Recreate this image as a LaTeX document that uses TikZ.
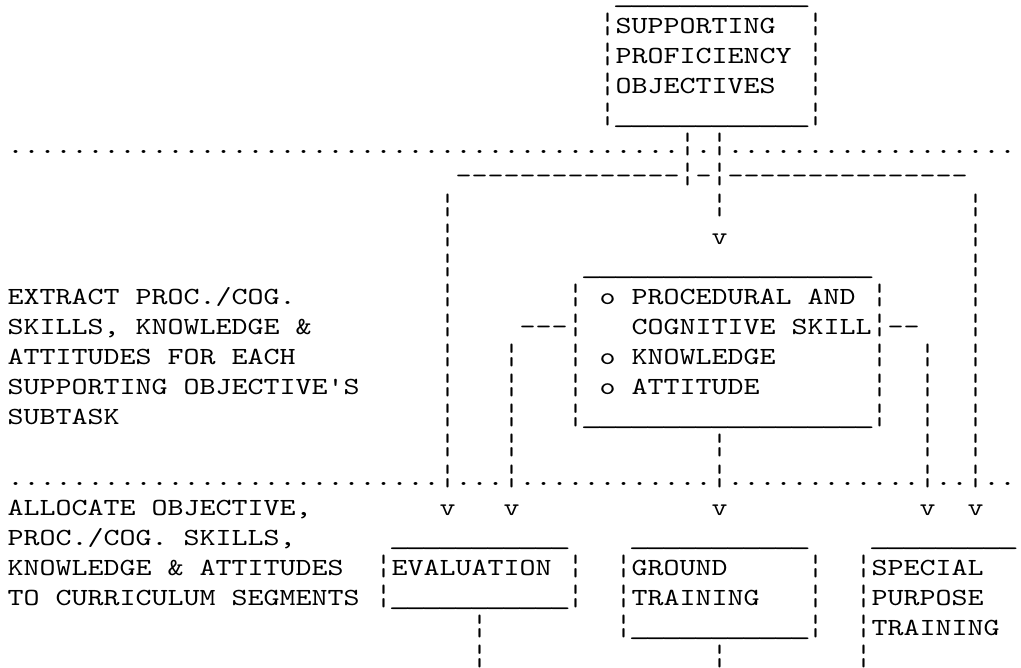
\documentclass[tikz,border=0pt]{standalone}
\usepackage{fontspec}
\setmonofont{lmmono10-regular.otf}[FakeStretch=1.2389]
\usepackage{tikz}
\usetikzlibrary{positioning}

% repeat a character, skip columns of the 8pt grid
\newcommand\chrep[2]{\foreach\i in {1,...,#1}{#2}}
\newcommand\skipcols[1]{\hspace*{#1\dimexpr 8pt\relax}}
% box rule characters, one column wide
\newcommand\us{\makebox[8pt][c]{\scalebox{1.4}[1]{\_}}}
\newcommand\vb{\makebox[8pt][c]{\scalebox{1}[1.2]{¦}}}

\tikzset{
  ascii/.style={anchor=base west, inner sep=0pt, outer sep=0pt,
    font=\ttfamily\fontsize{12.3pt}{15pt}\selectfont\frenchspacing}
}

\begin{document}
\begin{tikzpicture}[x=8pt, y=-15.05pt]
    \useasboundingbox (0pt,0pt) rectangle (510.5pt,-334pt);
    \begin{scope}[shift={(3.85pt,-1.7pt)}]
        % supporting proficiency objectives
        \node[ascii] (row0) at (0,0) {\skipcols{38}\chrep{12}{\us}};
        \node[ascii] (row1) at (0,1) {\skipcols{37}\vb SUPPORTING\skipcols{2}\vb};
        \node[ascii] (row2) at (0,2) {\skipcols{37}\vb PROFICIENCY\skipcols{1}\vb};
        \node[ascii] (row3) at (0,3) {\skipcols{37}\vb OBJECTIVES\skipcols{2}\vb};
        \node[ascii] (row4) at (0,4) {\skipcols{37}\vb\chrep{12}{\us}\vb};
        \node[ascii] (row5) at (0,5) {\chrep{42}{.}\vb.\vb\chrep{18}{.}};
        \node[ascii] (row6) at (0,6) {\skipcols{28}\chrep{14}{-}\vb-\vb\chrep{15}{-}};
        \node[ascii] (row7) at (0,7) {\skipcols{27}\vb\skipcols{16}\vb\skipcols{15}\vb};
        \node[ascii] (row8) at (0,8) {\skipcols{27}\vb\skipcols{16}v\skipcols{15}\vb};
        \node[ascii] (row9) at (0,9) {\skipcols{27}\vb\skipcols{8}\chrep{18}{\us}\skipcols{6}\vb};

        % extract skills, knowledge and attitudes
        \node[ascii] (row10) at (0,10) {EXTRACT PROC./COG.\skipcols{9}\vb\skipcols{7}\vb%
            \skipcols{1}o PROCEDURAL AND\skipcols{1}\vb\skipcols{5}\vb};
        \node[ascii] (row11) at (0,11) {SKILLS, KNOWLEDGE \&\skipcols{8}\vb\skipcols{4}\chrep{3}{-}\vb%
            \skipcols{3}COGNITIVE SKILL\vb\chrep{2}{-}\skipcols{3}\vb};
        \node[ascii] (row12) at (0,12) {ATTITUDES FOR EACH\skipcols{9}\vb\skipcols{3}\vb\skipcols{3}\vb%
            \skipcols{1}o KNOWLEDGE\skipcols{6}\vb\skipcols{2}\vb\skipcols{2}\vb};
        \node[ascii] (row13) at (0,13) {SUPPORTING OBJECTIVE'S\skipcols{5}\vb\skipcols{3}\vb%
            \skipcols{3}\vb\skipcols{1}o ATTITUDE\skipcols{7}\vb\skipcols{2}\vb\skipcols{2}\vb};
        \node[ascii] (row14) at (0,14) {SUBTASK\skipcols{20}\vb\skipcols{3}\vb\skipcols{3}\vb%
            \chrep{18}{\us}\vb\skipcols{2}\vb\skipcols{2}\vb};
        \node[ascii] (row15) at (0,15) {\skipcols{27}\vb\skipcols{3}\vb\skipcols{12}\vb\skipcols{12}\vb%
            \skipcols{2}\vb};
        \node[ascii] (row16) at (0,16) {\chrep{27}{.}\vb\chrep{3}{.}\vb\chrep{12}{.}\vb\chrep{12}{.}\vb%
            \chrep{2}{.}\vb\chrep{2}{.}};

        % allocate to curriculum segments
        \node[ascii] (row17) at (0,17) {ALLOCATE OBJECTIVE,\skipcols{8}v\skipcols{3}v\skipcols{12}v%
            \skipcols{12}v\skipcols{2}v};
        \node[ascii] (row18) at (0,18) {PROC./COG. SKILLS,\skipcols{6}\chrep{11}{\us}\skipcols{4}%
            \chrep{11}{\us}\skipcols{4}\chrep{9}{\us}};
        \node[ascii] (row19) at (0,19) {KNOWLEDGE \& ATTITUDES\skipcols{2}\vb EVALUATION\skipcols{1}\vb%
            \skipcols{2}\vb GROUND\skipcols{5}\vb\skipcols{2}\vb SPECIAL};
        \node[ascii] (row20) at (0,20) {TO CURRICULUM SEGMENTS\skipcols{1}\vb\chrep{11}{\us}\vb%
            \skipcols{2}\vb TRAINING\skipcols{3}\vb\skipcols{2}\vb PURPOSE};
        \node[ascii] (row21) at (0,21) {\skipcols{29}\vb\skipcols{8}\vb\chrep{11}{\us}\vb\skipcols{2}\vb TRAINING};
        \node[ascii] (row22) at (0,22) {\skipcols{29}\vb\skipcols{14}\vb\skipcols{8}\vb};
    \end{scope}
\end{tikzpicture}
\end{document}
